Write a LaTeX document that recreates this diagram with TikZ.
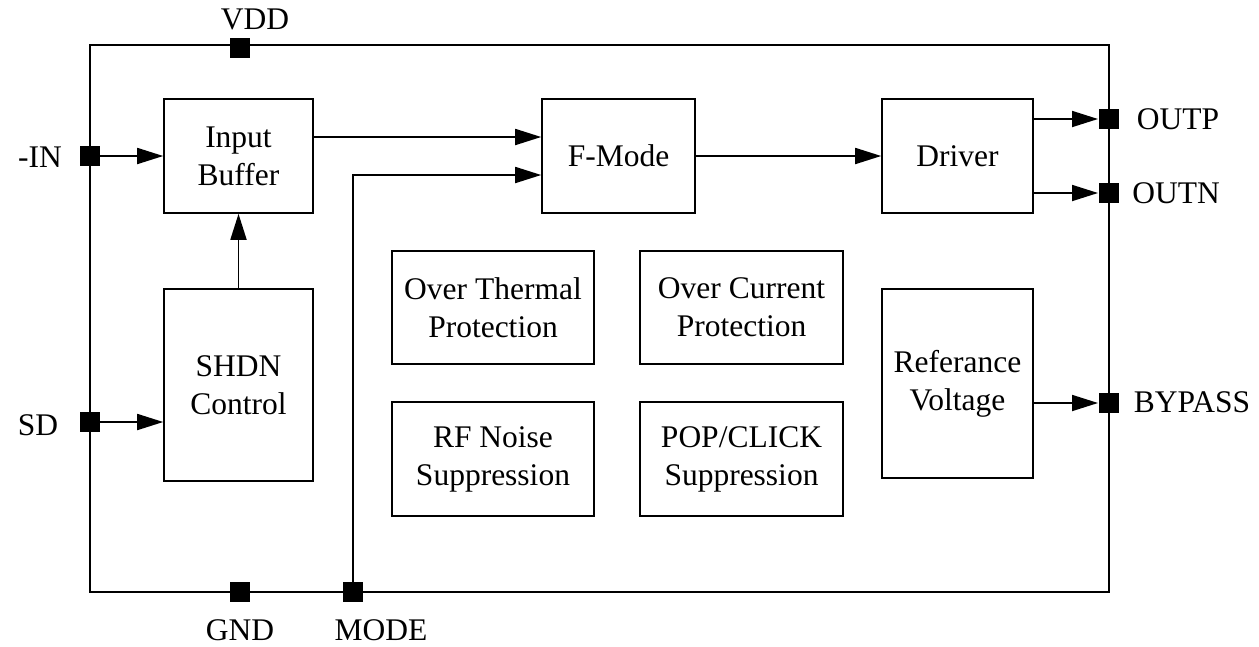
\documentclass[tikz,border=0pt]{standalone}
\usepackage{fontspec}
\setmainfont{Liberation Serif}
\usetikzlibrary{arrows.meta}
\begin{document}
\begin{tikzpicture}[x=1pt,y=-1pt,
  line width=2pt,
  blk/.style={draw,line width=1.6pt,align=center,font=\fontsize{31.5}{38}\selectfont,inner sep=0pt},
  pin/.style={fill=black,minimum size=20pt,inner sep=0pt},
  lbl/.style={font=\fontsize{31.5}{38}\selectfont,inner sep=0pt},
  arr/.style={-{Triangle[length=26pt,width=16pt]},line width=1.8pt}]
\useasboundingbox (0,0) rectangle (1259,646);
% outer frame
\coordinate (tl) at (90,45);
\coordinate (br) at (1109,592);
\draw[line width=1.6pt] (tl) rectangle (br);
% blocks
\node[blk,minimum width=149pt,minimum height=114pt] (ib) at (238.5,156) {Input\\Buffer};
\node[blk,minimum width=149pt,minimum height=192pt] (sh) at (238.5,385) {SHDN\\Control};
\node[blk,minimum width=153pt,minimum height=114pt] (fm) at (618.5,156) {F-Mode};
\node[blk,minimum width=151pt,minimum height=114pt] (dr) at (957.5,156) {Driver};
\node[blk,minimum width=202pt,minimum height=113pt] (ot) at (493,307.5) {Over Thermal\\Protection};
\node[blk,minimum width=203pt,minimum height=113pt] (oc) at (741.5,307.5) {Over Current\\Protection};
\node[blk,minimum width=202pt,minimum height=114pt] (rf) at (493,459) {RF Noise\\Suppression};
\node[blk,minimum width=203pt,minimum height=114pt] (pc) at (741.5,459) {POP/CLICK\\Suppression};
\node[blk,minimum width=151pt,minimum height=189pt] (rv) at (957.5,383.5) {Referance\\Voltage};
% pins
\node[pin] (vdd) at (240,48) {};
\node[pin] (in) at (90,156) {};
\node[pin] (sd) at (90,422) {};
\node[pin] (gnd) at (240,592) {};
\node[pin] (mode) at (353,592) {};
\node[pin] (outp) at (1109,119) {};
\node[pin] (outn) at (1109,193) {};
\node[pin] (byp) at (1109,403) {};
% pin labels
\node[lbl] (lvdd) at (255,19) {VDD};
\node[lbl] (lin) at (40,157) {-IN};
\node[lbl] (lsd) at (38,425) {SD};
\node[lbl] (lgnd) at (240,630) {GND};
\node[lbl] (lmode) at (381,630) {MODE};
\node[lbl] (loutp) at (1178,119) {OUTP};
\node[lbl] (loutn) at (1176,193) {OUTN};
\node[lbl] (lbyp) at (1192,402) {BYPASS};
% connectors
\draw[arr] (in.center) -- (ib.west);
\draw[arr] (ib.east |- 0,137) -- (fm.west |- 0,137);
\draw[arr] (mode.center) |- (fm.west |- 0,175);
\draw[arr] (fm.east) -- (dr.west);
\draw[arr] (dr.east |- outp) -- (outp.west);
\draw[arr] (dr.east |- outn) -- (outn.west);
\draw[arr] (sh.north) -- (ib.south);
\draw[arr] (sd.center) -- (sh.west |- sd);
\draw[arr] (rv.east |- byp) -- (byp.west);
\end{tikzpicture}
\end{document}
